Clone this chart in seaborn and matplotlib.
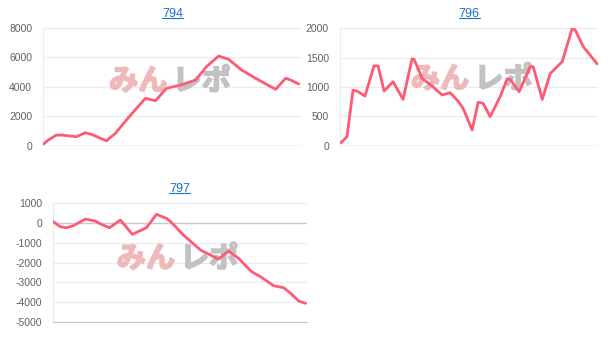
import matplotlib
matplotlib.use("Agg")
import matplotlib.pyplot as plt
import matplotlib.patheffects as pe
import seaborn as sns
import pandas as pd

# ---- data ----
title_794 = "794"
x_794 = [0, 5, 13, 19, 27, 33, 42, 48, 55, 63, 72, 83, 93, 102, 112, 123, 137, 152,
         163, 175, 185, 198, 215, 232, 242, 247, 255]
y_794 = [113, 384, 720, 720, 655, 610, 880, 770, 565, 330, 836, 1740, 2530, 3210, 3050,
         3890, 4110, 4454, 5356, 6080, 5860, 5132, 4454, 3824, 4570, 4454, 4183]
ticks_794 = [0, 2000, 4000, 6000, 8000]

title_796 = "796"
x_796 = [1, 7, 13, 17, 25, 34, 38, 44, 53, 63, 72, 74, 82, 92, 102, 110, 117, 123, 132,
         138, 143, 150, 160, 167, 170, 179, 190, 193, 202, 210, 222, 232, 235, 243, 257]
y_796 = [51, 153, 945, 930, 847, 1360, 1360, 932, 1090, 790, 1480, 1472, 1148, 1017, 864,
         903, 778, 637, 267, 739, 722, 494, 835, 1140, 1131, 920, 1346, 1346, 790, 1229,
         1431, 2000, 1971, 1687, 1392]
ticks_796 = [0, 500, 1000, 1500, 2000]

title_797 = "797"
x_797 = [0, 7, 13, 20, 32, 42, 48, 56, 67, 79, 93, 103, 113, 117, 122, 130, 147, 165,
         175, 185, 198, 207, 220, 230, 237, 245, 252]
y_797 = [45, -205, -255, -155, 180, 80, -85, -255, 130, -587, -255, 416, 215, 60, -200,
         -622, -1374, -1830, -1424, -1790, -2462, -2713, -3164, -3265, -3545, -3931, -4047]
ticks_797 = [-5000, -4000, -3000, -2000, -1000, 0, 1000]

watermark_a = "みん"
watermark_b = "レポ"

# ---- style ----
sns.set_theme(style="white")
plt.rcParams['font.family'] = ['Liberation Sans', 'DejaVu Sans', 'Noto Sans CJK JP']

LINE = "#ff5a73"
GRID = "#ebebeb"
AXIS = "#c8c8c8"
TICK = "#606060"
LINK = "#1a6fd1"

fig = plt.figure(figsize=(6.09, 3.43), dpi=100)

specs = [
    (title_794, x_794, y_794, ticks_794, [0.0711, 0.5752, 0.4243, 0.3440], 258, (0.49, 0.55)),
    (title_796, x_796, y_796, ticks_796, [0.5583, 0.5752, 0.4241, 0.3423], 258, (0.51, 0.57)),
    (title_797, x_797, y_797, ticks_797, [0.0875, 0.0603, 0.4161, 0.3487], 253, (0.49, 0.535)),
]

for title, xs, ys, ticks, rect, xmax, wm in specs:
    ax = fig.add_axes(rect)
    df = pd.DataFrame({"x": xs, "y": ys})
    # watermark
    pink = "#efb9bc"
    grey = "#c2c2c2"
    ax.text(wm[0] - 0.01, wm[1], watermark_a, transform=ax.transAxes, ha="right",
            va="center", fontsize=21, fontweight="bold", color=pink,
            family=["Noto Sans CJK JP"], zorder=1,
            path_effects=[pe.withStroke(linewidth=1.3, foreground=pink)])
    ax.text(wm[0] + 0.01, wm[1], watermark_b, transform=ax.transAxes, ha="left",
            va="center", fontsize=21, fontweight="bold", color=grey,
            family=["Noto Sans CJK JP"], zorder=1,
            path_effects=[pe.withStroke(linewidth=1.3, foreground=grey)])
    sns.lineplot(data=df, x="x", y="y", ax=ax, color=LINE, linewidth=2.0, zorder=3)
    ax.set_xlim(0, xmax)
    ax.set_ylim(ticks[0], ticks[-1])
    ax.set_yticks(ticks)
    ax.set_yticklabels([str(t) for t in ticks], fontsize=7.5, color=TICK)
    ax.set_xticks([])
    ax.set_xlabel("")
    ax.set_ylabel("")
    ax.tick_params(axis="y", length=0, pad=8)
    for t in ticks:
        ax.axhline(t, color=(AXIS if t == 0 else GRID), linewidth=1.0 if t == 0 else 0.8, zorder=0)
    for s in ["top", "right", "bottom"]:
        ax.spines[s].set_visible(False)
    ax.spines["left"].set_color(GRID)
    ax.spines["left"].set_linewidth(0.8)
    if ticks[0] != 0:
        ax.spines["bottom"].set_visible(True)
        ax.spines["bottom"].set_color(AXIS)
        ax.spines["bottom"].set_linewidth(0.8)
    ax.set_title(title, fontsize=9, color=LINK, pad=8)
    ax.patch.set_alpha(0)

# underline titles
fig.canvas.draw()
renderer = fig.canvas.get_renderer()
for ax in fig.axes:
    bb = ax.title.get_window_extent(renderer)
    inv = fig.transFigure.inverted()
    (x0, y0), (x1, y1) = inv.transform([(bb.x0, bb.y0), (bb.x1, bb.y1)])
    fig.add_artist(plt.Line2D([x0, x1], [y0 + 0.006, y0 + 0.006], color=LINK,
                              linewidth=0.8, transform=fig.transFigure))

fig.savefig("out.png", dpi=100)
